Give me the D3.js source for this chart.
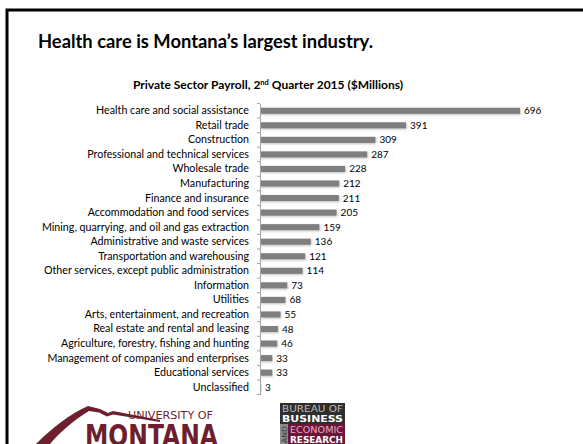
<!DOCTYPE html>
<html>
<head>
<meta charset="utf-8">
<script src="https://cdn.jsdelivr.net/npm/d3@7"></script>
<style>
  body { margin: 0; background: #fff; }
  svg { display: block; }
</style>
</head>
<body>
<div id="chart"></div>
<script>
// Private sector payroll by industry, Q2 2015 ($ millions)
const industries = [
  'Health care and social assistance',
  'Retail trade',
  'Construction',
  'Professional and technical services',
  'Wholesale trade',
  'Manufacturing',
  'Finance and insurance',
  'Accommodation and food services',
  'Mining, quarrying, and oil and gas extraction',
  'Administrative and waste services',
  'Transportation and warehousing',
  'Other services, except public administration',
  'Information',
  'Utilities',
  'Arts, entertainment, and recreation',
  'Real estate and rental and leasing',
  'Agriculture, forestry, fishing and hunting',
  'Management of companies and enterprises',
  'Educational services',
  'Unclassified'
];
const payroll = [696, 391, 309, 287, 228, 212, 211, 205, 159, 136, 121, 114, 73, 68, 55, 48, 46, 33, 33, 3];

const width = 583, height = 444;
const font = 'Lato, "Open Sans", sans-serif';

const svg = d3.select('#chart')
    .append('svg')
    .attr('width', width)
    .attr('height', height);

// slide frame (top + left edges only visible)
svg.append('path')
    .attr('d', `M7,${height} V10 H${width}`)
    .attr('fill', 'none')
    .attr('stroke', '#000')
    .attr('stroke-width', 3);

// headline
svg.append('text')
    .attr('x', 38)
    .attr('y', 48)
    .style('font-family', font)
    .style('font-weight', 'bold')
    .style('font-size', '19px')
    .attr('textLength', 335)
    .attr('lengthAdjust', 'spacingAndGlyphs')
    .text('Health care is Montana\u2019s largest industry.');

// chart title with superscript
const sub = svg.append('text')
    .attr('x', 268)
    .attr('y', 89)
    .attr('text-anchor', 'middle')
    .style('font-family', font)
    .style('font-weight', 'bold')
    .style('font-size', '12px');
sub.append('tspan').text('Private Sector Payroll, 2');
sub.append('tspan').attr('dy', -4).style('font-size', '7.5px').text('nd');
sub.append('tspan').attr('dy', 4).text(' Quarter 2015 ($Millions)');

// scales
const x = d3.scaleLinear()
    .domain([0, 696])
    .range([260, 520]);

const y = d3.scaleBand()
    .domain(industries)
    .range([103.5, 394.5])
    .padding(0);

const barH = y.bandwidth() * 0.42;

const defs = svg.append('defs');
const shadow = defs.append('filter').attr('id', 'shadow')
    .attr('x', '-5%').attr('y', '-50%').attr('width', '110%').attr('height', '200%');
shadow.append('feDropShadow')
    .attr('dx', 0.8).attr('dy', 1)
    .attr('stdDeviation', 0.8)
    .attr('flood-color', '#000')
    .attr('flood-opacity', 0.25);

// bars
svg.append('g')
    .selectAll('rect')
    .data(industries)
    .join('rect')
    .attr('x', x(0))
    .attr('y', d => y(d) + (y.bandwidth() - barH) / 2)
    .attr('width', (d, i) => x(payroll[i]) - x(0))
    .attr('height', barH)
    .attr('fill', '#7f7f7f')
    .attr('filter', 'url(#shadow)');

// category axis
const yAxis = svg.append('g')
    .attr('transform', `translate(${x(0)},0)`)
    .call(d3.axisLeft(y).tickSize(0).tickPadding(11));
yAxis.select('.domain').attr('stroke', '#a6a6a6');
yAxis.selectAll('text')
    .style('font-family', font)
    .style('font-size', '10.7px')
    .attr('fill', '#000');

// tick marks at band boundaries
svg.append('g')
    .selectAll('line')
    .data(industries.concat(['__end']))
    .join('line')
    .attr('x1', x(0) - 3)
    .attr('x2', x(0))
    .attr('y1', d => d === '__end' ? y.range()[1] : y(d))
    .attr('y2', d => d === '__end' ? y.range()[1] : y(d))
    .attr('stroke', '#a6a6a6');

// value labels
svg.append('g')
    .selectAll('text')
    .data(industries)
    .join('text')
    .attr('x', (d, i) => x(payroll[i]) + 4)
    .attr('y', d => y(d) + y.bandwidth() / 2)
    .attr('dy', '0.35em')
    .style('font-family', font)
    .style('font-size', '10px')
    .text((d, i) => payroll[i]);

// University of Montana logo
const maroon = '#6d1f2f';
const um = svg.append('g');
um.append('path')
    .attr('d', 'M36,444 C52,428 70,414 88,406 L100,409 L108,413 L113,411 L160,420 L160,422 L113,414.5 L107,416.5 L99,412.5 L89,411 C74,420 60,432 50,444 Z')
    .attr('fill', maroon);
um.append('text')
    .attr('x', 128)
    .attr('y', 419)
    .style('font-family', '"DejaVu Sans", sans-serif')
    .style('font-size', '10px')
    .attr('fill', maroon)
    .attr('textLength', 85)
    .attr('lengthAdjust', 'spacingAndGlyphs')
    .text('UNIVERSITY OF');
um.append('text')
    .attr('x', 85)
    .attr('y', 446)
    .style('font-family', '"DejaVu Sans", sans-serif')
    .style('font-weight', 'bold')
    .style('font-size', '31px')
    .attr('fill', maroon)
    .attr('textLength', 133)
    .attr('lengthAdjust', 'spacingAndGlyphs')
    .text('MONTANA');

// Bureau of Business and Economic Research logo
const bb = svg.append('g');
bb.append('rect').attr('x', 280).attr('y', 403).attr('width', 65).attr('height', 21).attr('fill', '#2e2e2e');
bb.append('rect').attr('x', 280).attr('y', 424).attr('width', 8).attr('height', 20).attr('fill', '#8c8c8c');
bb.append('rect').attr('x', 288).attr('y', 424).attr('width', 57).attr('height', 20).attr('fill', '#6a1638');
const logoText = [
  { t: 'BUREAU OF', x: 282, y: 412, w: 61, c: '#bdbdbd', bold: false },
  { t: 'BUSINESS', x: 282, y: 422, w: 61, c: '#ffffff', bold: true },
  { t: 'ECONOMIC', x: 290, y: 433, w: 53, c: '#e7a7c6', bold: false },
  { t: 'RESEARCH', x: 290, y: 442.5, w: 53, c: '#ffffff', bold: true }
];
bb.selectAll('text.lt')
    .data(logoText)
    .join('text')
    .attr('class', 'lt')
    .attr('x', d => d.x)
    .attr('y', d => d.y)
    .attr('textLength', d => d.w)
    .attr('lengthAdjust', 'spacingAndGlyphs')
    .style('font-family', '"DejaVu Sans", sans-serif')
    .style('font-size', '9px')
    .style('font-weight', d => d.bold ? 'bold' : 'normal')
    .attr('fill', d => d.c)
    .text(d => d.t);
bb.append('text')
    .attr('transform', 'translate(286.5,443) rotate(-90)')
    .attr('textLength', 17)
    .attr('lengthAdjust', 'spacingAndGlyphs')
    .style('font-family', '"DejaVu Sans", sans-serif')
    .style('font-size', '7px')
    .attr('fill', '#333')
    .text('AND');
</script>
</body>
</html>
